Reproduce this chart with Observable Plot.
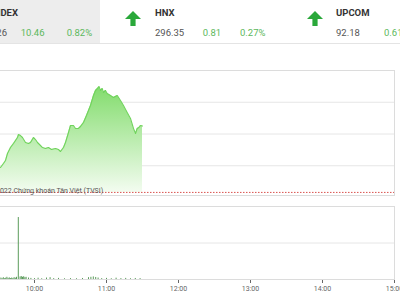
<!DOCTYPE html>
<html><head><meta charset="utf-8">
<script src="https://cdn.jsdelivr.net/npm/d3@7"></script>
<script src="https://cdn.jsdelivr.net/npm/@observablehq/plot@0.6"></script>
<style>
html,body{margin:0;padding:0;background:#fff;}
body{width:400px;height:300px;overflow:hidden;font-family:Roboto,"Noto Sans",sans-serif;}
#hdr{position:relative;height:43px;border-bottom:1px solid #e4e4e4;overflow:hidden;}
#grey{position:absolute;left:0;top:0;width:100px;height:43px;background:#ededed;}
.t{position:absolute;font-size:9.5px;line-height:9.5px;white-space:nowrap;color:#555;}
.b{font-weight:bold;color:#333;}
.g{color:#5cb85c;}
.arr{position:absolute;width:16px;height:15px;}
#c1,#c2{display:block;}
</style></head>
<body>
<div id="hdr"><div id="grey"></div></div>
<div id="c1"></div>
<div id="c2"></div>
<script>
// ---- header data ----
const idxNames = ["VNINDEX", "HNX", "UPCOM"];
const idxValues = ["1,286.26", "296.35", "92.18"];
const idxChanges = ["10.46", "0.81", "0.61"];
const idxPercents = ["0.82%", "0.27%", "0.61%"];

// ---- price data (VN-Index intraday) ----
const priceTimes = ["09:31:40","09:34:10","09:35:50","09:37:30","09:40:00","09:42:30","09:45:50","09:46:40","09:48:20","09:50:00","09:52:30","09:55:00","09:56:40","09:59:10","10:00:50","10:02:30","10:05:00","10:06:40","10:09:10","10:11:40","10:14:10","10:17:30","10:20:00","10:21:40","10:24:10","10:25:50","10:28:20","10:30:00","10:32:30","10:34:10","10:36:40","10:38:20","10:40:50","10:43:20","10:46:40","10:49:10","10:50:50","10:52:30","10:53:45","10:55:00","10:56:25","10:57:30","10:59:10","11:00:35","11:03:20","11:05:50","11:09:00","11:11:40","11:14:10","11:17:15","11:20:00","11:22:30","11:24:10","11:25:35","11:27:00","11:28:20","11:30:00"];
const priceValues = [1279.72,1280.35,1280.83,1281.93,1282.87,1283.50,1284.45,1284.92,1284.76,1284.45,1283.66,1283.50,1283.66,1284.45,1284.13,1283.66,1283.19,1282.87,1282.72,1282.87,1282.56,1282.72,1282.56,1282.24,1282.87,1283.66,1285.24,1286.34,1286.34,1285.87,1285.87,1286.18,1286.81,1287.91,1289.49,1291.06,1291.85,1292.17,1292.48,1291.85,1292.17,1291.54,1291.85,1291.38,1291.06,1290.75,1291.06,1290.28,1289.49,1288.39,1287.44,1285.87,1285.08,1285.87,1286.02,1286.34,1286.26];
const refPrice = 1275.80;
const priceGrid = [1280, 1285, 1290];
const copyright = "©2022 Chứng khoán Tân Việt (TVSI)";

// ---- volume data ----
const volTimes = ["09:32","09:33","09:34","09:35","09:36","09:37","09:38","09:39","09:40","09:41","09:42","09:43","09:44","09:45","09:46:30","09:48","09:49","09:50","09:51","09:52","09:53","09:55","09:57","10:00","10:03","10:06","10:10","10:13","10:16","10:20","10:25","10:30","10:35","10:40","10:45","10:47","10:49","10:51","10:53","10:56","11:00","11:04","11:08","11:12","11:16","11:20","11:24","11:28"];
const volValues = [20,12,25,10,18,30,15,22,12,20,14,25,18,30,849,35,40,30,38,25,30,20,15,12,18,10,20,25,12,15,10,12,10,14,25,30,35,28,20,12,15,10,18,12,15,10,14,12];
const volGrid = [500];
const hourLabels = ["09:00","10:00","11:00","12:00","13:00","14:00","15:00"];

// ---- helpers ----
function t(s){const p=s.split(":").map(Number);return new Date(2022,0,1,p[0],p[1],p[2]||0);}
const price = priceTimes.map((s,i)=>({t:t(s), v:priceValues[i]}));
const vol = volTimes.map((s,i)=>({t:t(s), v:volValues[i]}));

// ---- header ----
const hdr = document.getElementById("hdr");
const lefts = [[-22,-60,20.7,66.7],[155,155,202.7,240],[336,336,384,430]];
const arrowX = [125, 307];
function span(txt, cls, left, top, extra){
  const d=document.createElement("div"); d.className="t "+cls; d.textContent=txt;
  d.style.left=left+"px"; d.style.top=top+"px"; if(extra) Object.assign(d.style, extra); hdr.appendChild(d);
}
idxNames.forEach((n,i)=>{
  const L=lefts[i];
  span(n,"b",L[0],8);
  if(i===0) span(idxValues[i],"",L[1],27.5,{width:"67px",textAlign:"right"});
  else span(idxValues[i],"",L[1],27.5);
  span(idxChanges[i],"g",L[2],27.5);
  span(idxPercents[i],"g",L[3],27.5);
});
arrowX.forEach(x=>{
  const ns="http://www.w3.org/2000/svg";
  const s=document.createElementNS(ns,"svg"); s.setAttribute("class","arr"); s.setAttribute("viewBox","0 0 16 15");
  s.style.left=x+"px"; s.style.top="10.5px";
  const p=document.createElementNS(ns,"polygon"); p.setAttribute("points","8,0 16,8 10.6,8 10.6,15 5.4,15 5.4,8 0,8"); p.setAttribute("fill","#2aa83a");
  s.appendChild(p); hdr.appendChild(s);
});

// ---- charts ----
const xScale = {type:"time", domain:[t("09:00"), t("15:00")], range:[-38, 394]};

const gradDefs = () => {
  const d = d3.create("svg:defs");
  const g = d.append("linearGradient").attr("id","pg").attr("x1",0).attr("y1",0).attr("x2",0).attr("y2",1);
  g.append("stop").attr("offset","0%").attr("stop-color","#82dc6c");
  g.append("stop").attr("offset","100%").attr("stop-color","#f3fcf0");
  return d.node();
};

const chart1 = Plot.plot({
  width:400, height:152, marginTop:26, marginRight:6, marginBottom:1, marginLeft:0,
  style:{fontFamily:"Roboto, sans-serif", background:"transparent"},
  x:{...xScale, axis:null},
  y:{domain:[1275,1295], range:[153,26], axis:null},
  marks:[
    gradDefs,
    Plot.gridY(priceGrid, {stroke:"#e6e6e6", strokeOpacity:1}),
    Plot.areaY(price, {x:"t", y1:refPrice, y2:"v", fill:"url(#pg)", curve:"linear"}),
    Plot.lineY(price, {x:"t", y:"v", stroke:"#70d35c", strokeWidth:1.1}),
    Plot.ruleY([refPrice], {stroke:"#d9534f", strokeDasharray:"1.5,1.5", strokeWidth:1}),
    Plot.text([copyright], {frameAnchor:"bottom-left", textAnchor:"start", lineAnchor:"bottom", dx:-10, dy:-3, fontSize:7, fill:"#555"}),
    Plot.frame({stroke:"#dcdcdc", insetLeft:-5})
  ]
});
document.getElementById("c1").appendChild(chart1);

const chart2 = Plot.plot({
  width:400, height:104, marginTop:10, marginRight:6, marginBottom:21, marginLeft:0,
  style:{fontFamily:"Roboto, sans-serif", fontSize:"7px", color:"#666", background:"transparent"},
  x:{...xScale, ticks:hourLabels.map(t), tickFormat:d3.timeFormat("%H:%M"), tickSize:4, tickPadding:3, label:null},
  y:{domain:[0,1000], range:[83,10], axis:null},
  marks:[
    Plot.gridY(volGrid, {stroke:"#e6e6e6", strokeOpacity:1}),
    Plot.ruleX(vol, {x:"t", y1:0, y2:"v", stroke:"#5b9b5b", strokeWidth:1}),
    Plot.frame({stroke:"#dcdcdc", insetLeft:-5})
  ]
});
document.getElementById("c2").appendChild(chart2);
</script>
</body></html>
